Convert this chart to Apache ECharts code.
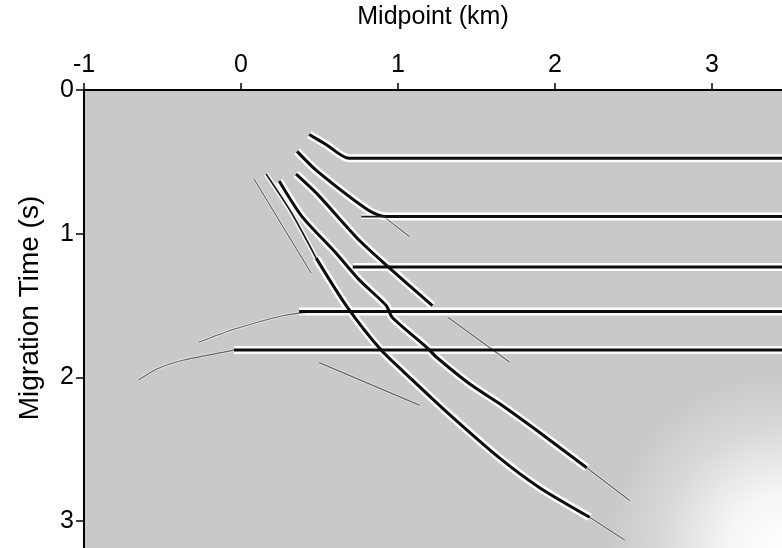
<!DOCTYPE html>
<html><head><meta charset="utf-8">
<script src="https://cdn.jsdelivr.net/npm/echarts@6/dist/echarts.min.js"></script>
<style>html,body{margin:0;padding:0;background:#fff}#c{width:782px;height:548px}</style>
</head><body><div id="c"></div>
<script>
// Axis ticks
var xTicks = [-1, 0, 1, 2, 3];
var yTicks = [0, 1, 2, 3];
var xRange = [-1, 3.446];
var tRange = [0, 3.187];

// Flat reflectors (midpoint km, time s) – strong events
var refl1 = [[0.434,0.310],[0.542,0.379],[0.689,0.475],[3.446,0.475]];
var refl2 = [[0.357,0.427],[0.485,0.564],[0.817,0.840],[0.925,0.881],[3.446,0.881]];
var refl2stub = [[0.766,0.881],[0.925,0.881]];
var refl3 = [[0.712,1.232],[3.446,1.232]];
var refl4 = [[0.370,1.542],[3.446,1.542]];
var refl5 = [[-0.045,1.810],[3.446,1.810]];

// Weak curved tails of the flat reflectors
var tail4 = [[0.466,1.542],[0.274,1.569],[-0.045,1.665],[-0.268,1.755]];
var tail5 = [[-0.045,1.810],[-0.108,1.824],[-0.364,1.879],[-0.536,1.941],[-0.651,2.017]];
var tail2 = [[0.925,0.895],[1.072,1.019]];

// Dipping events
var dip3 = [[0.351,0.585],[0.485,0.723],[0.753,1.046],[0.932,1.225],[1.219,1.500]];
var dip4 = [[0.243,0.633],[0.389,0.881],[0.606,1.136],[0.753,1.321],[0.925,1.500],[0.964,1.583],[1.181,1.789],[1.244,1.858],[1.455,2.044],[1.646,2.182],[1.934,2.409],[2.202,2.629]];
var dip4faint = [[2.202,2.629],[2.476,2.856]];
var dip5upper = [[0.160,0.585],[0.325,0.861],[0.479,1.170]];
var dip5 = [[0.479,1.170],[0.670,1.500],[0.893,1.810],[1.091,2.017],[1.327,2.257],[1.646,2.560],[1.902,2.767],[2.221,2.973]];
var dip5faint = [[2.221,2.973],[2.444,3.131]];
var dip6faint = [[0.083,0.619],[0.274,0.964],[0.447,1.273]];
var dip3faint = [[1.320,1.583],[1.710,1.893]];
var faintA = [[0.498,1.897],[1.136,2.193]];

var strong = [refl1, refl2, refl3, refl4, refl5, dip3, dip4, dip5];
var thin = [refl2stub, dip5upper];
var faint = [tail4, tail5, tail2, dip4faint, dip5faint, dip6faint, dip3faint, faintA];

var series = [];
function add(data, color, width, z, opacity) {
  series.push({type:'line', data:data, showSymbol:false, silent:true, z:z, smooth:0.25,
    lineStyle:{color:color, width:width, opacity:opacity}});
}
strong.forEach(function(d){ add(d, '#ffffff', 8, 2, 0.95); });
thin.forEach(function(d){ add(d, '#ffffff', 5, 2, 0.8); });
faint.forEach(function(d){ add(d, '#f4f4f4', 3, 2, 0.6); });
strong.forEach(function(d){ add(d, '#0d0d0d', 3, 4, 1); });
thin.forEach(function(d){ add(d, '#1a1a1a', 1.6, 4, 1); });
faint.forEach(function(d){ add(d, '#4a4a4a', 1.2, 3, 0.8); });

var chart = echarts.init(document.getElementById('c'));
var font = 'Liberation Sans';
function intLabel(v){ return xTicks.concat(yTicks).indexOf(v) >= 0 ? String(v) : ''; }
chart.setOption({
  animation:false,
  backgroundColor:'#ffffff',
  grid:{left:84, top:85, right:0, bottom:0, show:true, borderWidth:0,
    backgroundColor:{type:'radial', x:1, y:1, r:0.38,
      colorStops:[{offset:0,color:'#ffffff'},{offset:0.3,color:'#f6f6f6'},{offset:0.7,color:'#d8d8d8'},{offset:1,color:'#c9c9c9'}]}},
  xAxis:{type:'value', position:'top', min:xRange[0], max:xRange[1], interval:1,
    name:'Midpoint (km)', nameLocation:'middle', nameGap:60,
    nameTextStyle:{fontFamily:font, fontSize:25, color:'#000'},
    axisLine:{show:true, onZero:false, lineStyle:{color:'#000', width:2}},
    axisTick:{show:true, length:7, lineStyle:{color:'#000', width:1.5}},
    axisLabel:{show:true, margin:12, fontFamily:font, fontSize:25, color:'#000', formatter:intLabel, showMaxLabel:false},
    splitLine:{show:false}},
  yAxis:{type:'value', inverse:true, min:tRange[0], max:tRange[1], interval:1,
    name:'Migration Time (s)', nameLocation:'middle', nameGap:40, nameRotate:90,
    nameTextStyle:{fontFamily:font, fontSize:28, color:'#000', padding:[0,0,0,22]},
    axisLine:{show:true, onZero:false, lineStyle:{color:'#000', width:2}},
    axisTick:{show:true, length:8, lineStyle:{color:'#000', width:1.5}},
    axisLabel:{show:true, margin:10, fontFamily:font, fontSize:25, color:'#000', formatter:intLabel, showMaxLabel:false},
    splitLine:{show:false}},
  series:series
});
</script></body></html>
